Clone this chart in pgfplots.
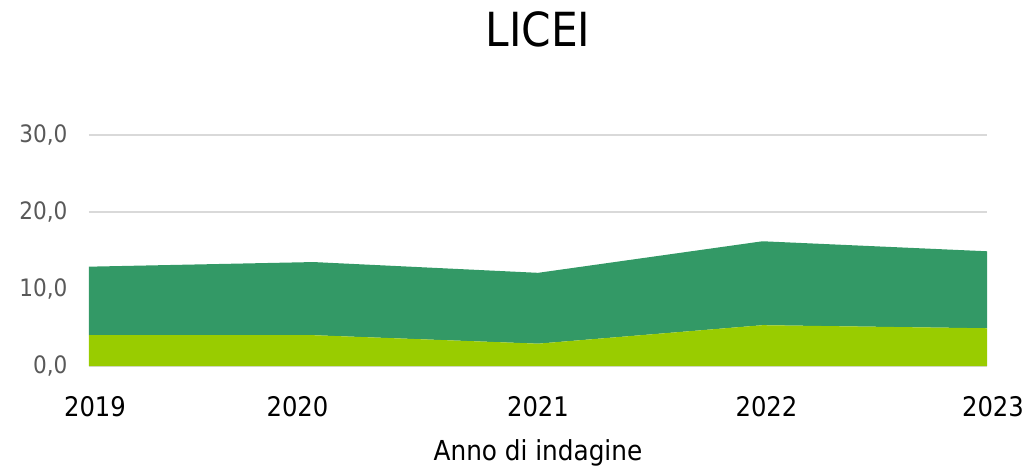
\documentclass[border=0pt]{standalone}
\usepackage{pgfplots}
\pgfplotsset{compat=1.18}
\usepackage{fontspec}
\setmainfont{DejaVu Sans Condensed}
\definecolor{lowg}{HTML}{99CC00}
\definecolor{topg}{HTML}{339966}
\definecolor{gridc}{HTML}{D9D9D9}
\definecolor{tickc}{HTML}{595959}
\begin{document}
\begin{tikzpicture}[x=1pt,y=1pt]
\useasboundingbox (-89,-103) rectangle (941,366);
\begin{axis}[
  at={(0,0)}, anchor=south west,
  scale only axis, width=898pt, height=231pt,
  xmin=2019, xmax=2023, ymin=0, ymax=30,
  stack plots=y,
  axis x line*=bottom, axis y line*=left,
  x axis line style={gridc, line width=1.5pt},
  y axis line style={draw=none},
  xtick={2019,2020,2021,2022,2023},
  xticklabels={\hspace*{12pt}2019,2020\hspace*{32pt},2021,\hspace*{8pt}2022,\hspace*{12pt}2023},
  xtick style={draw=none},
  xticklabel style={font=\fontsize{27}{32}\selectfont, text=black, yshift=-27pt},
  ytick={0,10,20,30},
  ymajorgrids, grid style={gridc, line width=1.5pt},
  ytick style={draw=none},
  yticklabel style={font=\fontsize{24}{28}\selectfont, text=tickc, xshift=-18pt},
  /pgf/number format/assume math mode=true,
  yticklabel={\pgfmathprintnumber[fixed, fixed zerofill, precision=1, use comma]{\tick}},
  xlabel={Anno di indagine},
  xlabel style={font=\fontsize{27.5}{32}\selectfont, yshift=-16pt},
  title={LICEI},
  title style={font=\fontsize{47}{52}\selectfont, at={(0.5,1)}, anchor=center, yshift=100pt},
  clip=false,
]
\addplot[fill=lowg, draw=none] coordinates {(2019,4.0) (2020,4.0) (2021,2.9) (2022,5.3) (2023,4.9)} \closedcycle;
\addplot[fill=topg, draw=none] coordinates {(2019,8.9) (2020,9.5) (2021,9.2) (2022,10.9) (2023,10.0)} \closedcycle;
\end{axis}
\end{tikzpicture}
\end{document}
